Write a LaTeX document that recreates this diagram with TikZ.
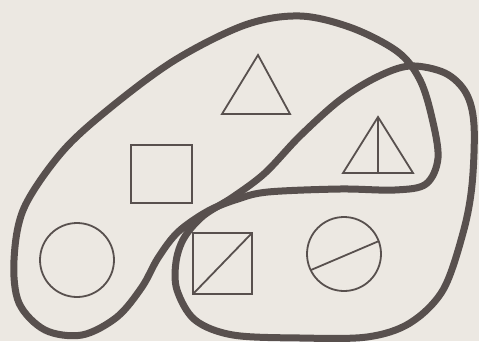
\documentclass[tikz,border=0pt]{standalone}
\usepackage{tikz}
\definecolor{paper}{RGB}{236,232,226}
\definecolor{ink}{RGB}{88,80,78}

\begin{document}
\begin{tikzpicture}[x=1pt,y=-1pt,
  loop/.style={ink,line width=7pt,line join=round},
  figure/.style={ink,line width=1.8pt}]
  \fill[paper] (0,0) rectangle (479,341);
  \coordinate (tri) at (258,55);
  \coordinate (sq) at (131,145);
  \coordinate (circ) at (77,260);
  \coordinate (sqd) at (193,233);
  \coordinate (circd) at (344,254);
  \coordinate (trid) at (378,117);
  % upper left loop
  \draw[loop] plot[smooth cycle,tension=0.55] coordinates {
    (245,25) (300,16) (352,28) (398,52) (420,80) (432,118) (438,158)
    (426,184) (395,190) (340,189) (268,192) (238,199) (208,211)
    (178,232) (158,258) (142,287) (117,317) (82,335) (45,330) (19,303)
    (14,260) (24,208) (62,152) (110,108) (175,60)};
  % lower right loop
  \draw[loop] plot[smooth cycle,tension=0.55] coordinates {
    (410,66) (445,73) (466,93) (474,125) (472,185) (463,233) (443,290)
    (410,323) (367,337) (300,338) (233,335) (195,320) (177,290)
    (176,262) (184,238) (203,216) (233,197) (265,173) (300,136)
    (340,100) (377,77)};
  % figures
  \draw[figure] (tri) -- (290,114) -- (222,114) -- cycle;
  \draw[figure] (sq) rectangle (192,203);
  \draw[figure] (circ) circle (37pt);
  \draw[figure] (sqd) rectangle (252,294);
  \draw[figure] (193,294) -- (252,233);
  \draw[figure] (circd) circle (37pt);
  \draw[figure] (311,270) -- (379,241);
  \draw[figure] (trid) -- (413,173) -- (343,173) -- cycle;
  \draw[figure] (trid) -- (378,173);
\end{tikzpicture}
\end{document}
